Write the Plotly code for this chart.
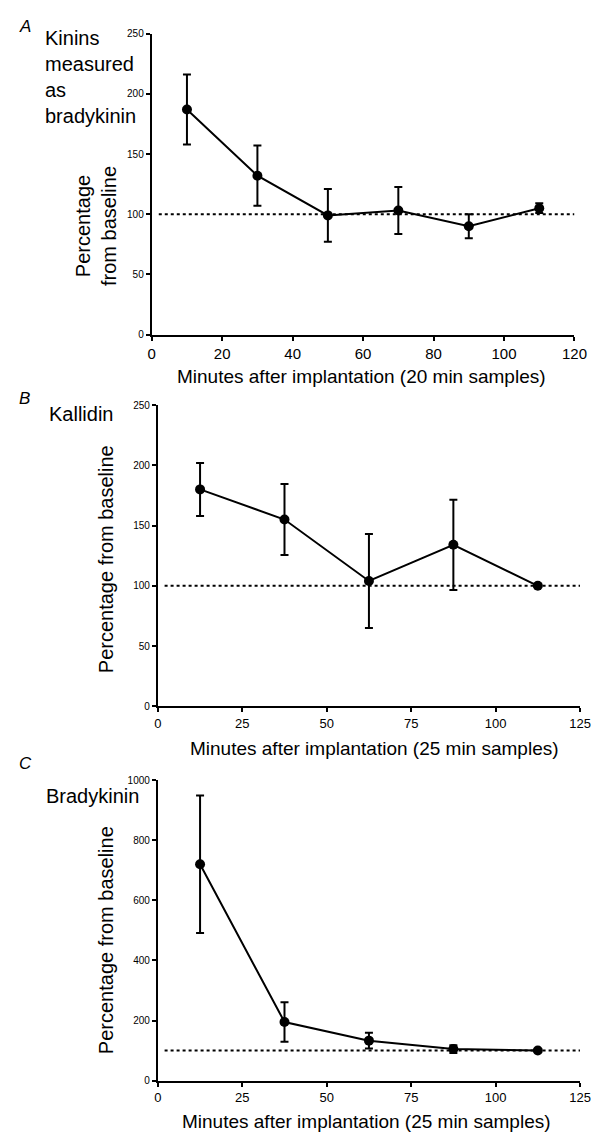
import plotly.graph_objects as go

W, H = 604, 1144

# Panel A: kinins measured as bradykinin (20 min samples)
a_minutes = [10, 30, 50, 70, 90, 110]
a_pct = [187, 132, 99, 103, 90, 105]
a_sem = [29, 25, 22, 19.5, 10, 4]

# Panel B: kallidin (25 min samples)
b_minutes = [12.5, 37.5, 62.5, 87.5, 112.5]
b_pct = [180, 155, 104, 134, 100]
b_sem = [22, 29.5, 39, 37.5, 0]

# Panel C: bradykinin (25 min samples)
c_minutes = [12.5, 37.5, 62.5, 87.5, 112.5]
c_pct = [720, 195, 133, 105, 100]
c_sem = [229, 66, 26, 13, 0]

baseline = 100
a_xrange = [0, 120]
bc_xrange = [0, 125]

FONT = "Liberation Sans, Arial, sans-serif"


def px_x(p):
    return p / W


def px_y(p):
    return 1 - p / H


fig = go.Figure()

panels = [
    ("x", "y", a_minutes, a_pct, a_sem, a_xrange),
    ("x2", "y2", b_minutes, b_pct, b_sem, bc_xrange),
    ("x3", "y3", c_minutes, c_pct, c_sem, bc_xrange),
]

for xa, ya, xs, ys, es, xr in panels:
    # dotted baseline
    fig.add_trace(go.Scatter(
        x=[xr[0] + 2, xr[1]], y=[baseline, baseline], xaxis=xa, yaxis=ya,
        mode="lines", line=dict(color="black", width=2, dash="dot"),
        hoverinfo="skip", showlegend=False,
    ))
    fig.add_trace(go.Scatter(
        x=xs, y=ys, xaxis=xa, yaxis=ya, mode="lines+markers",
        line=dict(color="black", width=2),
        marker=dict(color="black", size=10),
        error_y=dict(type="data", array=es, visible=True, color="black",
                     thickness=2, width=4),
        showlegend=False,
    ))

axis_common = dict(
    showline=True, linecolor="black", linewidth=2, mirror=False,
    ticks="outside", ticklen=4, tickwidth=1.5, tickcolor="black",
    showgrid=False, zeroline=False, fixedrange=True,
)

# domains from pixel geometry
domA_x = [px_x(152), px_x(587)]
domA_y = [px_y(332), px_y(28)]
domB_x = [px_x(158.3), px_x(592.7)]
domB_y = [px_y(707.7), px_y(403.3)]
domC_x = [px_x(158.3), px_x(592.7)]
domC_y = [px_y(1086), px_y(782.3)]

fig.update_layout(
    width=W, height=H, margin=dict(l=0, r=0, t=0, b=0),
    paper_bgcolor="white", plot_bgcolor="white",
    font=dict(family=FONT, color="black"),
    xaxis=dict(**axis_common, domain=domA_x, range=a_xrange, tick0=0, dtick=20,
               anchor="y", tickfont=dict(size=15)),
    yaxis=dict(**axis_common, domain=domA_y, range=[0, 250], tick0=0, dtick=50,
               anchor="x", tickfont=dict(size=10)),
    xaxis2=dict(**axis_common, domain=domB_x, range=bc_xrange, tick0=0, dtick=25,
                anchor="y2", tickfont=dict(size=13)),
    yaxis2=dict(**axis_common, domain=domB_y, range=[0, 250], tick0=0, dtick=50,
                anchor="x2", tickfont=dict(size=10)),
    xaxis3=dict(**axis_common, domain=domC_x, range=bc_xrange, tick0=0, dtick=25,
                anchor="y3", tickfont=dict(size=13)),
    yaxis3=dict(**axis_common, domain=domC_y, range=[0, 1000], tick0=0, dtick=200,
                anchor="x3", tickfont=dict(size=10)),
)

annotations = [
    # panel letters
    dict(text="<i>A</i>", x=13, y=21, size=17, xanchor="left"),
    dict(text="<i>B</i>", x=13, y=397, size=17, xanchor="left"),
    dict(text="<i>C</i>", x=13, y=766, size=17, xanchor="left"),
    # panel labels
    dict(text="Kinins<br>measured<br>as<br>bradykinin", x=40, y=72, size=20,
         xanchor="left", align="left"),
    dict(text="Kallidin", x=44, y=412, size=20, xanchor="left"),
    dict(text="Bradykinin", x=41, y=798, size=20, xanchor="left"),
    # x titles
    dict(text="Minutes after implantation (20 min samples)", x=368, y=374, size=19),
    dict(text="Minutes after implantation (25 min samples)", x=381, y=750, size=19),
    dict(text="Minutes after implantation (25 min samples)", x=373, y=1127, size=19),
]

for a in annotations:
    fig.add_annotation(
        text=a["text"], xref="paper", yref="paper",
        x=px_x(a["x"]), y=px_y(a["y"]),
        xanchor=a.get("xanchor", "center"), yanchor="middle",
        align=a.get("align", "center"),
        showarrow=False, font=dict(family=FONT, size=a["size"], color="black"),
    )

# y titles (rotated)
ytitles = [
    dict(text="Percentage<br>from baseline", x=94, y=222),
    dict(text="Percentage from baseline", x=105, y=559),
    dict(text="Percentage from baseline", x=105, y=944),
]
for t in ytitles:
    fig.add_annotation(
        text=t["text"], xref="paper", yref="paper",
        x=px_x(t["x"]), y=px_y(t["y"]), xanchor="center", yanchor="middle",
        textangle=-90, showarrow=False,
        font=dict(family=FONT, size=20, color="black"),
    )

fig.write_html("out.html")
